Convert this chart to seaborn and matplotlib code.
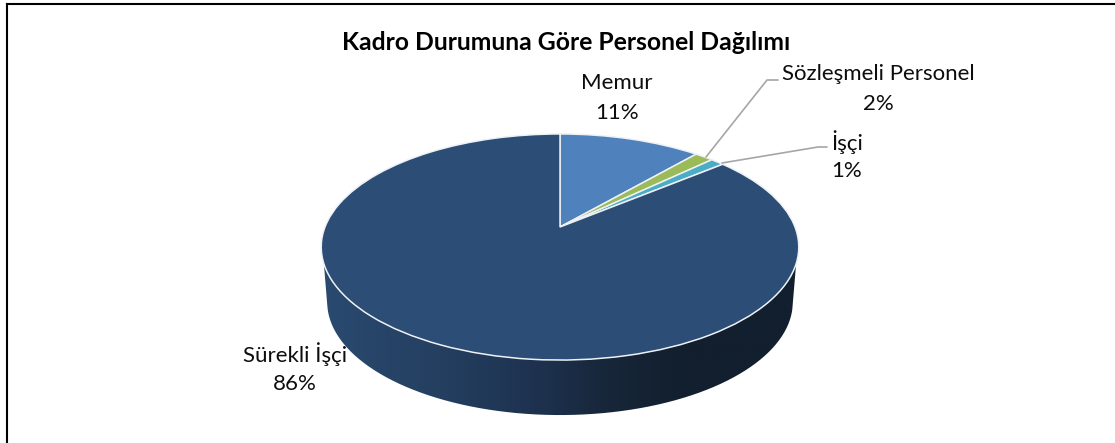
import numpy as np
import matplotlib
matplotlib.use('Agg')
import matplotlib.pyplot as plt
import seaborn as sns
from matplotlib.colors import LinearSegmentedColormap
from matplotlib.patches import PathPatch
from matplotlib.path import Path
from matplotlib.transforms import Transform

categories = ['Memur', 'Sözleşmeli Personel', 'İşçi', 'Sürekli İşçi']
shares = [11.4, 1.5, 1.1, 86.0]
slice_colors = ['#4f81bd', '#9bbb59', '#4bacc6', '#2c4d75']
title_text = 'Kadro Durumuna Göre Personel Dağılımı'

# tilted disc geometry, in image pixels
CX, CY = 560, 227
RX, RY, TILT = 235, 109.5, 0.177


class DiscTransform(Transform):
    """Maps the unit pie circle onto the tilted disc (perspective)"""
    input_dims = 2
    output_dims = 2

    def transform_non_affine(self, values):
        values = np.asarray(values)
        d = 1 + TILT * values[:, 1]
        return np.column_stack([CX + RX * values[:, 0] / d, CY - RY * values[:, 1] / d])


sns.set_theme(style='white')
plt.rcParams['font.family'] = ['Lato', 'DejaVu Sans']

fig = plt.figure(figsize=(11.15, 4.43), dpi=100, facecolor='white')
ax = fig.add_axes([7 / 1115, 0, 1 - 7 / 1115, 1 - 4 / 443])

disc = DiscTransform()
wedges, _ = ax.pie(shares, startangle=90, counterclock=False,
                   colors=sns.color_palette(slice_colors),
                   wedgeprops={'edgecolor': '#eef1f5', 'linewidth': 1.1})
for wedge in wedges:
    wedge.set_transform(disc + ax.transData)
    wedge.set_zorder(3)

# side wall of the disc
theta = np.linspace(0, 2 * np.pi, 721)
rim = disc.transform(np.column_stack([np.cos(theta), np.sin(theta)]))
front = rim[(rim[:, 1] >= 263)]
front = front[np.argsort(front[:, 0])]
base = np.column_stack([CX + (rim[:, 0] - CX) * 0.975, rim[:, 1] + 55])
base = base[base[:, 1] >= 305]
base = base[np.argsort(base[:, 0])[::-1]]
wall_path = Path(np.vstack([front, base, front[:1]]))

wall_cmap = LinearSegmentedColormap.from_list(
    'wall', [(0, '#2a4a70'), (0.25, '#243f60'), (0.45, '#1e3250'), (0.6, '#172739'), (0.75, '#121f2e'), (1, '#121f2e')])
ramp = np.linspace(0, 1, 256).reshape(1, -1)
wall = ax.imshow(ramp, cmap=wall_cmap, extent=(320, 800, 420, 260), aspect='auto', zorder=2)
wall_patch = PathPatch(wall_path, transform=ax.transData, facecolor='none', edgecolor='none')
ax.add_patch(wall_patch)
wall.set_clip_path(wall_patch)

ax.set_aspect('auto')
ax.set_xlim(7, 1115)
ax.set_ylim(443, 4)

ax.set_frame_on(True)
ax.set_xticks([])
ax.set_yticks([])
sns.despine(ax=ax, top=False, right=True, bottom=True)
for side in ['top', 'left']:
    ax.spines[side].set_color('black')
    ax.spines[side].set_linewidth(1.5)

# leader lines
ax.plot([706, 767, 778], [157, 80, 80], color='#a6a6a6', lw=1.2, zorder=4)
ax.plot([722, 818, 827], [163, 147, 147], color='#a6a6a6', lw=1.2, zorder=4)

# labels
label_pos = [(617, 83, 113), (878, 74, 104), (847, 142, 171), (295, 354, 384)]
for name, share, (x, y1, y2) in zip(categories, shares, label_pos):
    ax.text(x, y1, name, ha='center', va='center', fontsize=16, color='#0d0d0d', zorder=5)
    ax.text(x, y2, f'{share:.0f}%', ha='center', va='center', fontsize=16, color='#0d0d0d', zorder=5)

ax.text(566, 42, title_text, ha='center', va='center', fontsize=17.8, fontweight='bold',
        color='black', zorder=5)

fig.savefig('out.png', dpi=100)
plt.close(fig)
